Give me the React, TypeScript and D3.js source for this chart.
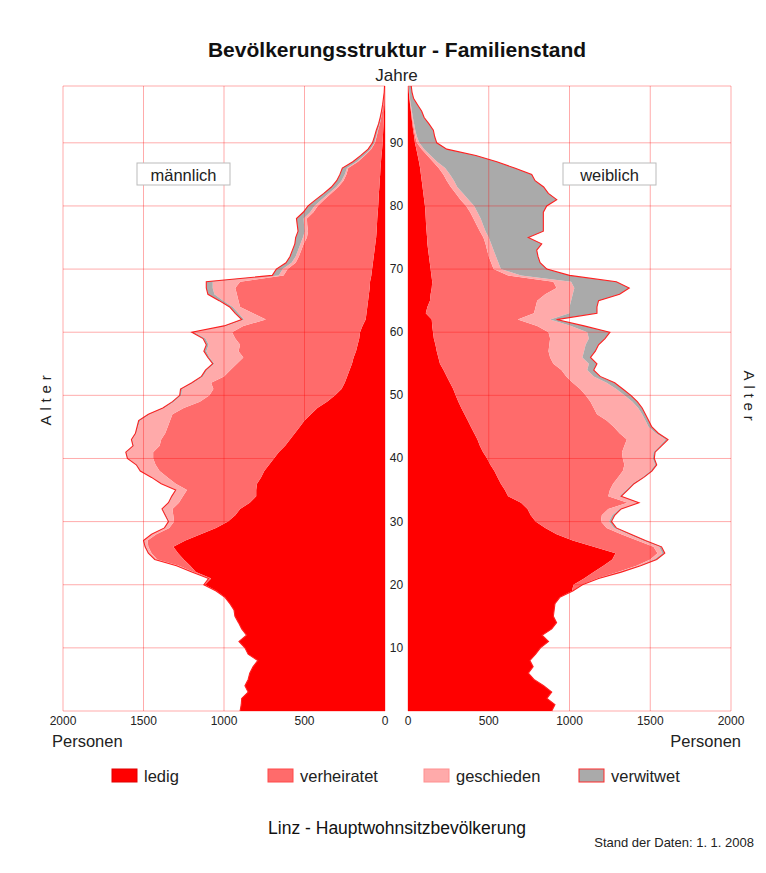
import React from 'react';
import * as d3 from 'd3';

// ---- data (persons per single year of age, 0..99) ----
const ages: number[] = d3.range(0, 100);
const categories = ['ledig', 'verheiratet', 'geschieden', 'verwitwet'];
const catColors = ['#ff0000', '#ff6b6b', '#ffaaaa', '#aaaaaa'];
const catStroke = ['#e00000', '#ff4a4a', '#ff9090', '#ff2a2a'];

const maleLedig = [
  900, 893, 890, 850, 870, 850, 840, 820, 790, 850,
  870, 907, 860, 890, 910, 932, 938, 963, 994, 1046,
  1118, 1080, 1175, 1210, 1250, 1285, 1315, 1240, 1145, 1050,
  975, 930, 900, 840, 800, 800, 795, 770, 750, 720,
  690, 660, 620, 590, 560, 530, 500, 460, 420, 360,
  310, 270, 250, 235, 220, 205, 195, 180, 170, 160,
  155, 140, 120, 115, 110, 105, 100, 95, 93, 85,
  80, 75, 70, 65, 60, 55, 52, 50, 48, 45,
  42, 40, 38, 35, 33, 30, 28, 25, 22, 18,
  15, 13, 11, 9, 7, 6, 4, 3, 2, 1,
];
const maleVerheiratet = [
  0, 0, 0, 0, 0, 0, 0, 0, 0, 0,
  0, 0, 0, 0, 0, 0, 0, 0, 0, 3,
  5, 10, 15, 70, 165, 165, 155, 235, 275, 290,
  335, 385, 420, 440, 455, 430, 505, 580, 650, 705,
  750, 780, 780, 800, 805, 820, 835, 860, 830, 790,
  780, 796, 830, 765, 740, 715, 685, 730, 730, 770,
  795, 740, 620, 705, 790, 805, 820, 835, 807, 545,
  525, 480, 465, 455, 445, 430, 426, 433, 437, 400,
  376, 338, 295, 255, 225, 210, 200, 143, 103, 68,
  47, 39, 32, 23, 17, 11, 7, 4, 2, 1,
];
const maleGeschieden = [
  0, 0, 0, 0, 0, 0, 0, 0, 0, 0,
  0, 0, 0, 0, 0, 0, 0, 0, 0, 0,
  2, 3, 8, 12, 10, 15, 15, 20, 25, 25,
  30, 45, 60, 60, 65, 65, 85, 95, 115, 115,
  155, 165, 160, 180, 180, 185, 185, 140, 120, 160,
  175, 194, 110, 130, 145, 140, 210, 200, 195, 185,
  235, 105, 135, 90, 45, 95, 140, 140, 170, 30,
  30, 25, 20, 20, 20, 25, 20, 20, 20, 20,
  20, 17, 15, 13, 12, 10, 8, 7, 5, 4,
  3, 3, 2, 1, 1, 1, 1, 1, 0, 0,
];
const maleVerwitwet = [
  0, 0, 0, 0, 0, 0, 0, 0, 0, 0,
  0, 0, 0, 0, 0, 0, 0, 0, 0, 0,
  0, 2, 2, 3, 5, 5, 5, 5, 5, 5,
  5, 5, 5, 5, 5, 5, 5, 5, 5, 5,
  5, 5, 5, 5, 5, 5, 10, 10, 10, 10,
  10, 10, 10, 10, 10, 10, 10, 15, 15, 15,
  15, 15, 15, 20, 20, 25, 40, 40, 40, 40,
  40, 35, 35, 35, 35, 45, 42, 42, 45, 43,
  40, 35, 32, 30, 30, 30, 29, 25, 20, 15,
  13, 10, 9, 7, 5, 4, 3, 2, 1, 1,
];

const femaleLedig = [
  890, 910, 860, 890, 840, 780, 745, 775, 755, 790,
  820, 870, 830, 890, 920, 900, 905, 910, 940, 1015,
  1025, 1090, 1150, 1210, 1265, 1285, 1150, 1020, 920, 850,
  790, 760, 740, 700, 620, 600, 575, 555, 535, 510,
  490, 465, 445, 430, 410, 390, 370, 350, 330, 312,
  295, 280, 260, 240, 220, 198, 188, 178, 170, 160,
  155, 150, 147, 110, 120, 136, 140, 147, 150, 145,
  140, 135, 130, 125, 120, 118, 115, 112, 110, 108,
  105, 100, 95, 90, 85, 80, 75, 68, 60, 52,
  43, 38, 32, 27, 22, 18, 13, 9, 5, 3,
];
const femaleVerheiratet = [
  0, 0, 0, 0, 0, 0, 0, 0, 0, 0,
  0, 0, 0, 0, 0, 0, 0, 0, 0, 3,
  50, 80, 150, 205, 235, 260, 370, 400, 400, 380,
  405, 440, 500, 660, 620, 650, 695, 745, 795, 830,
  840, 860, 895, 925, 900, 885, 860, 820, 820, 818,
  805, 786, 760, 740, 730, 702, 692, 692, 705, 720,
  715, 650, 533, 670, 670, 664, 710, 773, 750, 475,
  390, 380, 370, 365, 360, 349, 330, 313, 295, 277,
  255, 225, 200, 175, 155, 139, 115, 87, 60, 33,
  12, 7, 6, 5, 3, 2, 2, 1, 1, 1,
];
const femaleGeschieden = [
  0, 0, 0, 0, 0, 0, 0, 0, 0, 0,
  0, 0, 0, 0, 0, 0, 0, 0, 0, 2,
  3, 5, 10, 15, 25, 30, 35, 35, 45, 45,
  50, 65, 70, 60, 70, 100, 120, 150, 170, 190,
  185, 195, 220, 240, 225, 215, 240, 280, 275, 260,
  240, 224, 210, 170, 160, 220, 200, 220, 225, 240,
  240, 210, 200, 220, 210, 210, 170, 110, 110, 80,
  45, 45, 45, 40, 35, 33, 35, 40, 45, 45,
  50, 50, 45, 40, 45, 41, 40, 25, 20, 15,
  15, 10, 7, 6, 5, 4, 3, 2, 2, 1,
];
const femaleVerwitwet = [
  0, 0, 0, 0, 0, 0, 0, 0, 0, 0,
  0, 0, 0, 0, 0, 0, 0, 0, 0, 0,
  2, 5, 10, 10, 15, 15, 15, 15, 15, 15,
  15, 15, 10, 10, 10, 10, 10, 10, 10, 10,
  10, 10, 10, 15, 15, 20, 20, 20, 25, 30,
  40, 40, 50, 40, 40, 50, 50, 70, 80, 100,
  140, 80, 40, 170, 170, 170, 290, 340, 280, 300,
  285, 258, 260, 267, 313, 245, 358, 373, 388, 408,
  449, 546, 529, 535, 502, 506, 430, 370, 280, 140,
  108, 110, 112, 92, 70, 61, 42, 23, 17, 15,
];

const personTicks = [0, 500, 1000, 1500, 2000];
const personTickLabels = ['0', '500', '1000', '1500', '2000'];
const ageTicks = [10, 20, 30, 40, 50, 60, 70, 80, 90];

const FONT = "'Liberation Sans', Arial, Helvetica, sans-serif";

type Row = { age: number; [k: string]: number };

function buildRows(l: number[], v: number[], g: number[], w: number[]): Row[] {
  return ages.map((a, i) => ({ age: a, ledig: l[i], verheiratet: v[i], geschieden: g[i], verwitwet: w[i] }));
}

export default function App() {
  const y = d3.scaleLinear().domain([0, 99]).range([711, 86]);
  const xL = d3.scaleLinear().domain([0, 2000]).range([385, 63]);
  const xR = d3.scaleLinear().domain([0, 2000]).range([408, 731]);

  const stack = d3.stack<Row>().keys(categories);
  const maleSeries = stack(buildRows(maleLedig, maleVerheiratet, maleGeschieden, maleVerwitwet));
  const femaleSeries = stack(buildRows(femaleLedig, femaleVerheiratet, femaleGeschieden, femaleVerwitwet));

  const gridColor = 'rgba(255,0,0,0.33)';

  const panel = (series: any[], x: d3.ScaleLinear<number, number>, key: string) => {
    const area = d3
      .area<any>()
      .y((d) => y(d.data.age))
      .x0((d) => x(d[0]))
      .x1((d) => x(d[1]));
    const outline = d3
      .line<any>()
      .y((d) => y(d.data.age))
      .x((d) => x(d[1]));
    const [xa, xb] = x.range();
    const x0 = Math.min(xa, xb);
    const x1 = Math.max(xa, xb);
    return (
      <g key={key}>
        {series.map((s, i) => (
          <path key={s.key} d={area(s) || ''} fill={catColors[i]} stroke="none" />
        ))}
        <path d={outline(series[series.length - 1]) || ''} fill="none" stroke="#ff2020" strokeWidth={1.1} />
        {personTicks.map((t) => (
          <line key={'v' + t} x1={x(t)} x2={x(t)} y1={y(99)} y2={y(0)} stroke={gridColor} strokeWidth={1} />
        ))}
        {ageTicks.map((a) => (
          <line key={'h' + a} x1={x0} x2={x1} y1={y(a)} y2={y(a)} stroke={gridColor} strokeWidth={1} />
        ))}
        <line x1={x0} x2={x1} y1={y(99)} y2={y(99)} stroke={gridColor} strokeWidth={1} />
        <line x1={x0} x2={x1} y1={y(0)} y2={y(0)} stroke={gridColor} strokeWidth={1} />
        {personTicks.map((t, i) => (
          <text key={'t' + t} x={x(t)} y={721} textAnchor="middle" dominantBaseline="central" fontSize={12} fill="#222">
            {personTickLabels[i]}
          </text>
        ))}
      </g>
    );
  };

  const legendX = [112, 268, 424, 579];

  return (
    <svg
      width={766}
      height={873}
      viewBox="0 0 766 873"
      style={{ position: 'absolute', left: 0, top: 0, background: '#fff' }}
      fontFamily={FONT}
    >
      <rect x={0} y={0} width={766} height={873} fill="#fff" />
      <text x={397} y={57} textAnchor="middle" fontSize={21} fontWeight="bold" fill="#111">
        Bevölkerungsstruktur - Familienstand
      </text>
      <text x={396.5} y={81} textAnchor="middle" fontSize={17} fill="#222">
        Jahre
      </text>

      {panel(maleSeries, xL, 'm')}
      {panel(femaleSeries, xR, 'f')}

      {ageTicks.map((a) => (
        <text key={'a' + a} x={396.5} y={y(a)} textAnchor="middle" dominantBaseline="central" fontSize={12} fill="#222">
          {a}
        </text>
      ))}

      <rect x={137} y={163} width={93} height={22} fill="#fff" stroke="#bbb" strokeWidth={1} />
      <text x={183.5} y={174.5} textAnchor="middle" dominantBaseline="central" fontSize={16.5} fill="#222">
        männlich
      </text>
      <rect x={563} y={163} width={93} height={22} fill="#fff" stroke="#bbb" strokeWidth={1} />
      <text x={609.5} y={174.5} textAnchor="middle" dominantBaseline="central" fontSize={16.5} fill="#222">
        weiblich
      </text>

      <text
        transform="translate(45,398) rotate(-90)"
        textAnchor="middle"
        dominantBaseline="central"
        fontSize={15}
        letterSpacing={4.8}
        fill="#222"
      >
        Alter
      </text>
      <text
        transform="translate(749,398) rotate(90)"
        textAnchor="middle"
        dominantBaseline="central"
        fontSize={15}
        letterSpacing={4.8}
        fill="#222"
      >
        Alter
      </text>

      <text x={52} y={741} dominantBaseline="central" fontSize={16.5} fill="#222">
        Personen
      </text>
      <text x={741} y={741} textAnchor="end" dominantBaseline="central" fontSize={16.5} fill="#222">
        Personen
      </text>

      {categories.map((c, i) => (
        <g key={c}>
          <rect x={legendX[i]} y={769} width={25} height={13} fill={catColors[i]} stroke={catStroke[i]} strokeWidth={1} />
          <text x={legendX[i] + 32} y={776} dominantBaseline="central" fontSize={16.5} fill="#222">
            {c}
          </text>
        </g>
      ))}

      <text x={397} y={834} textAnchor="middle" fontSize={17.5} fill="#111">
        Linz - Hauptwohnsitzbevölkerung
      </text>
      <text x={754} y={847} textAnchor="end" fontSize={13} fill="#222">
        Stand der Daten: 1. 1. 2008
      </text>
    </svg>
  );
}
